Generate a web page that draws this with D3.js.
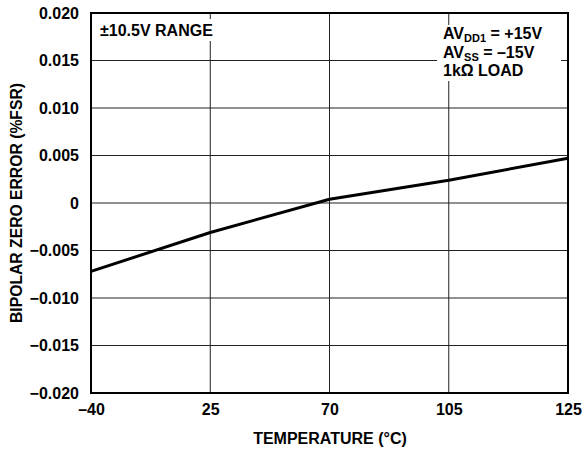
<!DOCTYPE html>
<html>
<head>
<meta charset="utf-8">
<script src="https://cdn.jsdelivr.net/npm/d3@7"></script>
<style>
  body { margin: 0; background: #fff; }
  text { font-family: "Liberation Sans", Arial, sans-serif; font-weight: bold; fill: #000; }
</style>
</head>
<body>
<svg id="chart"></svg>
<script>
// x ticks are evenly spaced in the reference (categorical positions)
const temps = ["–40", "25", "70", "105", "125"];
const errorValues = [-0.0072, -0.0031, 0.0004, 0.0024, 0.0047];
const yTicks = [-0.020, -0.015, -0.010, -0.005, 0, 0.005, 0.010, 0.015, 0.020];

const width = 584, height = 450;
const margin = {top: 13, right: 16, bottom: 57, left: 91};
const w = width - margin.left - margin.right;
const h = height - margin.top - margin.bottom;
const fs = 16;

const svg = d3.select('#chart').attr('width', width).attr('height', height);
const g = svg.append('g').attr('transform', `translate(${margin.left},${margin.top})`);

const x = d3.scalePoint().domain(temps).range([0, w]);
const y = d3.scaleLinear().domain([-0.020, 0.020]).range([h, 0]);

const fmtY = d => d === 0 ? '0' : d3.format('.3f')(d).replace('-', '–');

// gridlines
g.selectAll('.hgrid').data(yTicks).join('line')
  .attr('x1', 0).attr('x2', w)
  .attr('y1', d => y(d)).attr('y2', d => y(d))
  .attr('stroke', '#222').attr('stroke-width', 1);
g.selectAll('.vgrid').data(temps).join('line')
  .attr('x1', d => x(d)).attr('x2', d => x(d))
  .attr('y1', 0).attr('y2', h)
  .attr('stroke', '#222').attr('stroke-width', 1);

// axes (labels only)
const yAxis = g.append('g').call(d3.axisLeft(y).tickValues(yTicks).tickFormat(fmtY).tickSize(0).tickPadding(12));
yAxis.select('.domain').remove();
yAxis.selectAll('text').attr('font-size', fs).style('font-family', '"Liberation Sans", Arial, sans-serif').style('font-weight', 'bold');

const xAxis = g.append('g').attr('transform', `translate(0,${h})`)
  .call(d3.axisBottom(x).tickSize(0).tickPadding(11));
xAxis.select('.domain').remove();
xAxis.selectAll('text').attr('font-size', fs).style('font-family', '"Liberation Sans", Arial, sans-serif').style('font-weight', 'bold');

// annotations with white backgrounds
g.append('rect').attr('x', 6).attr('y', 6).attr('width', 120).attr('height', 22).attr('fill', '#fff');
g.append('text').attr('x', 9).attr('y', 23).attr('font-size', fs).text('±10.5V RANGE');

g.append('rect').attr('x', 346).attr('y', 12).attr('width', 124).attr('height', 56).attr('fill', '#fff');
const note = g.append('g').attr('transform', 'translate(352,0)');
const l1 = note.append('text').attr('x', 0).attr('y', 26).attr('font-size', fs);
l1.append('tspan').text('AV');
l1.append('tspan').attr('font-size', 11).attr('dy', 3).text('DD1');
l1.append('tspan').attr('dy', -3).text(' = +15V');
const l2 = note.append('text').attr('x', 0).attr('y', 45).attr('font-size', fs);
l2.append('tspan').text('AV');
l2.append('tspan').attr('font-size', 11).attr('dy', 3).text('SS');
l2.append('tspan').attr('dy', -3).text(' = –15V');
note.append('text').attr('x', 0).attr('y', 63).attr('font-size', fs).text('1kΩ LOAD');

// data line
const line = d3.line().x((d, i) => x(temps[i])).y(d => y(d));
g.append('path').datum(errorValues)
  .attr('d', line).attr('fill', 'none')
  .attr('stroke', '#000').attr('stroke-width', 3).attr('stroke-linejoin', 'round');

// frame
g.append('rect').attr('width', w).attr('height', h)
  .attr('fill', 'none').attr('stroke', '#000').attr('stroke-width', 2);

// axis titles
svg.append('text')
  .attr('x', 330).attr('y', 444)
  .attr('text-anchor', 'middle').attr('font-size', fs)
  .text('TEMPERATURE (°C)');
svg.append('text')
  .attr('transform', `translate(22,${margin.top + h / 2}) rotate(-90)`)
  .attr('text-anchor', 'middle').attr('font-size', fs)
  .attr('textLength', 240).attr('lengthAdjust', 'spacingAndGlyphs')
  .text('BIPOLAR ZERO ERROR (%FSR)');
</script>
</body>
</html>
